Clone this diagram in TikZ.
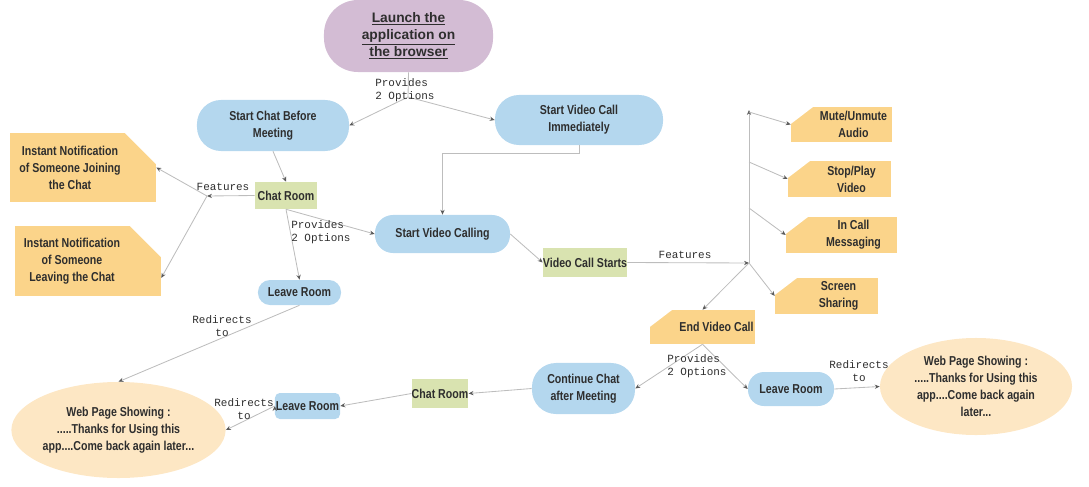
\documentclass[tikz,border=0pt]{standalone}
\usepackage{fontspec}
\newfontfamily\boxfont[FakeStretch=0.82]{Liberation Sans}
\newfontfamily\headfont{Liberation Sans}
\newfontfamily\codefont{Liberation Mono}
\usetikzlibrary{arrows.meta,shapes.geometric,positioning}
\definecolor{pillblue}{HTML}{B4D7EE}
\definecolor{roomgreen}{HTML}{D9E3B0}
\definecolor{notefill}{HTML}{FBD48A}
\definecolor{webcream}{HTML}{FDE7C4}
\definecolor{launchpurple}{HTML}{D3BCD4}
\definecolor{linegray}{HTML}{BDBDBD}
\definecolor{arrowgray}{HTML}{5A5A5A}
\definecolor{textgray}{HTML}{2E2E2E}

\begin{document}
\begin{tikzpicture}[x=0.025cm,y=-0.025cm,
		> = {Stealth[length=3.5pt,width=3pt,color=arrowgray]},
		line/.style={draw=linegray, line width=0.6pt},
		txt/.style={text=textgray, align=center, font=\fontsize{9.2}{12}\boxfont\bfseries},
		pill/.style={txt, fill=pillblue, rounded corners=#1, inner sep=0pt},
		room/.style={txt, fill=roomgreen, inner sep=0pt},
		web/.style={txt, ellipse, fill=webcream, inner sep=0pt},
		noteNE/.style={fill=notefill, inner sep=0pt,
			path picture={\fill[white] ([xshift=-0.78cm]path picture bounding box.north east) -- ([yshift=-0.78cm]path picture bounding box.north east) -- ([xshift=0.1cm,yshift=0.1cm]path picture bounding box.north east) -- cycle;}},
		noteNW/.style={fill=notefill, inner sep=0pt,
			path picture={\fill[white] ([yshift=-0.42cm]path picture bounding box.north west) -- ([xshift=0.55cm]path picture bounding box.north west) -- ([xshift=-0.1cm,yshift=0.1cm]path picture bounding box.north west) -- cycle;}},
		lbl/.style={text=textgray, inner sep=0pt, font=\fontsize{7.8}{9.2}\codefont}
		]
		\useasboundingbox (0,0) rectangle (1089,486);
		
		\node[fill=launchpurple, rounded corners=0.85cm, minimum width=4.225cm, minimum height=1.8cm, align=center, text=textgray, font=\fontsize{9.8}{12}\headfont\bfseries] at (408.5,36) (launch) {\underline{Launch the}\\\underline{application on}\\\underline{the browser}};
		
		\node[pill=0.6cm, minimum width=3.8cm, minimum height=1.275cm] at (273,125.5) (chat1) {Start Chat Before\\Meeting};
		\node[pill=0.6cm, minimum width=4.2cm, minimum height=1.25cm] at (579,120) (video1) {Start Video Call\\Immediately};
		\node[room, minimum width=1.55cm, minimum height=0.675cm] at (286,195.5) (chatroom1) {Chat Room};
		\node[noteNE, minimum width=3.65cm, minimum height=1.725cm, label={[txt,xshift=-0.325cm]center:{Instant Notification\\of Someone Joining\\the Chat}}] at (83,167.5) (note1) {};
		\node[noteNE, minimum width=3.65cm, minimum height=1.75cm, label={[txt,xshift=-0.4cm]center:{Instant Notification\\of Someone\\Leaving the Chat}}] at (88,261) (note2) {};
		\node[pill=0.3cm, minimum width=2.075cm, minimum height=0.625cm] at (299.5,292.5) (leave1) {Leave Room};
		\node[pill=0.45cm, minimum width=3.375cm, minimum height=0.95cm] at (442.5,234) (svc) {Start Video Calling};
		\node[room, minimum width=2cm, minimum height=0.725cm] at (585,262.5) (vcs) {Video Call Starts};
		
		% video call features
		\node[noteNW, minimum width=2.525cm, minimum height=0.875cm, label={[txt,xshift=0.3cm]center:{Mute/Unmute\\Audio}}] at (841.5,124.5) (mute) {};
		\node[noteNW, minimum width=2.575cm, minimum height=0.9cm, label={[txt,xshift=0.3cm]center:{Stop/Play\\Video}}] at (839.5,179) (stop) {};
		\node[noteNW, minimum width=2.775cm, minimum height=0.9cm, label={[txt,xshift=0.3cm]center:{In Call\\Messaging}}] at (841.5,235) (incall) {};
		\node[noteNW, minimum width=2.575cm, minimum height=0.9cm, label={[txt,xshift=0.3cm]center:{Screen\\Sharing}}] at (826.5,296) (screen) {};
		\node[noteNW, minimum width=2.625cm, minimum height=0.85cm, label={[txt,xshift=0.35cm]center:{End Video Call}}] at (702.5,327) (endcall) {};
		
		\node[pill=0.6cm, minimum width=2.575cm, minimum height=1.275cm] at (583.5,388.5) (cont) {Continue Chat\\after Meeting};
		\node[pill=0.4cm, minimum width=2.15cm, minimum height=0.85cm] at (791,389) (leave2) {Leave Room};
		\node[web, minimum width=4.8cm, minimum height=2.425cm] at (976,386.5) (web2) {Web Page Showing :\\.....Thanks for Using this\\app....Come back again\\later...};
		\node[room, minimum width=1.4cm, minimum height=0.725cm] at (440,393.5) (chatroom2) {Chat Room};
		\node[pill=0.12cm, minimum width=1.625cm, minimum height=0.65cm] at (307.5,406) (leave3) {Leave Room};
		\node[web, minimum width=5.325cm, minimum height=2.4cm] at (118.5,430) (web1) {Web Page Showing :\\.....Thanks for Using this\\app....Come back again later...};
		
		% Draw the connectors
		\coordinate (bA) at (408,97);
		\coordinate (bF) at (207,196);
		\coordinate (bV) at (749,263);
		\coordinate (bTop) at (749,110);
		\coordinate (m1) at (749,112);
		\coordinate (m2) at (749,162);
		\coordinate (m3) at (749,208);
		
		\draw[line] (launch.south) -- (bA);
		\path[line,->] (bA) edge (chat1.east)
		(bA) edge (video1.west)
		(chat1.south) edge (chatroom1.north)
		(chatroom1.west) edge (bF)
		(bF) edge (note1.east)
		(bF) edge (note2.-13)
		(chatroom1.south) edge (leave1.north)
		(chatroom1.south) edge (svc.west)
		(svc.east) edge (vcs.west)
		(vcs.east) edge (bV)
		(bV) edge (bTop)
		(m1) edge (mute.west)
		(m2) edge (stop.west)
		(m3) edge (incall.west)
		(bV) edge (screen.west)
		(bV) edge (endcall.north)
		(endcall.south) edge (cont.east)
		(endcall.south) edge (leave2.west)
		(leave2.east) edge (web2.west)
		(leave1.south) edge (web1.north)
		(cont.west) edge (chatroom2.east)
		(chatroom2.west) edge (leave3.east)
		(leave3.west) edge (web1.east);
		\draw[line,->] (video1.south) -- ++(0,8) -| (svc.north);
		
		% denote
		\node[lbl, anchor=west, align=left] at (375,90.5) (opt1) {Provides\\2 Options};
		\node[lbl] at (223,187) (feat1) {Features};
		\node[lbl, anchor=west, align=left] at (291,232) (opt2) {Provides\\2 Options};
		\node[lbl] at (685,255) (feat2) {Features};
		\node[lbl, anchor=west, align=left] at (667,366.5) (opt3) {Provides\\2 Options};
		\node[lbl, align=center] at (222,326.5) (redir1) {Redirects\\to};
		\node[lbl, align=center] at (244,409) (redir2) {Redirects\\to};
		\node[lbl, align=center] at (859,371) (redir3) {Redirects\\to};
	\end{tikzpicture}
\end{document}
